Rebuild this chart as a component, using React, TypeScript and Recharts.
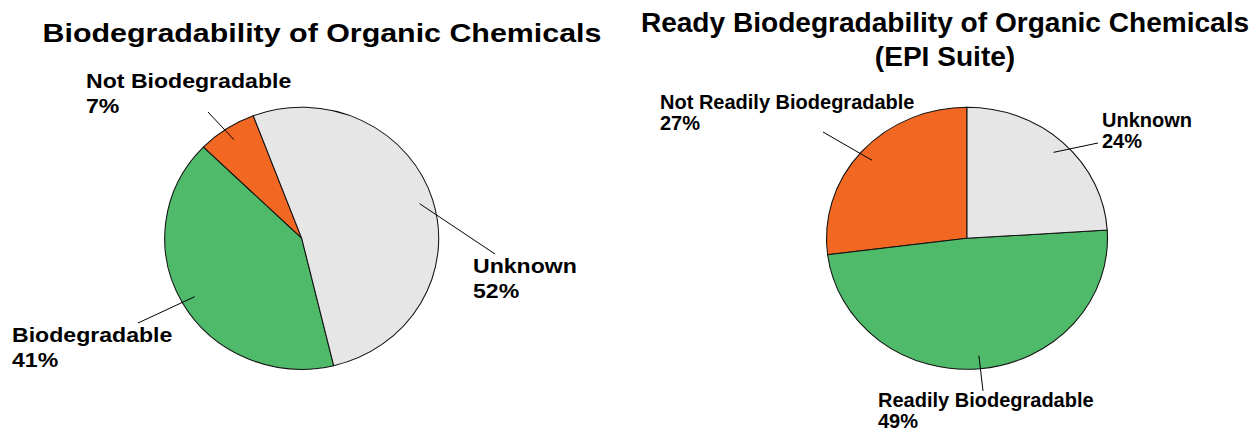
import React from 'react';
import { PieChart, Pie, Cell } from 'recharts';

// left chart
const leftTitle = 'Biodegradability of Organic Chemicals';
const leftNames = ['Not Biodegradable', 'Biodegradable', 'Unknown'];
const leftValues = [7, 41, 52];
const leftColors = ['#f26822', '#4fba69', '#e6e6e6'];

// right chart
const rightTitle = ['Ready Biodegradability of Organic Chemicals', '(EPI Suite)'];
const rightNames = ['Not Readily Biodegradable', 'Readily Biodegradable', 'Unknown'];
const rightValues = [27, 49, 24];
const rightColors = ['#f26822', '#4fba69', '#e6e6e6'];

const FONT = '"Liberation Sans", Arial, Helvetica, sans-serif';

// where each label's text sits and where its leader line ends (chart-local px)
const leftLabelLayout: { [k: string]: { tx: number; ty: number; ex: number; ey: number } } = {
  'Not Biodegradable': { tx: 86, ty: 88, ex: 208, ey: 112 },
  'Biodegradable': { tx: 12, ty: 342, ex: 138, ey: 323 },
  'Unknown': { tx: 473, ty: 273, ex: 495, ey: 254 },
};
const rightLabelLayout: { [k: string]: { tx: number; ty: number; ex: number; ey: number } } = {
  'Not Readily Biodegradable': { tx: 30, ty: 109, ex: 193, ey: 132 },
  'Readily Biodegradable': { tx: 248, ty: 407, ex: 353, ey: 391 },
  'Unknown': { tx: 472, ty: 127, ex: 468, ey: 143 },
};

interface PieSpec {
  cls: string;
  names: string[];
  values: number[];
  colors: string[];
  cx: number;
  cy: number;
  ry: number;
  sx: number; // horizontal stretch of the pie
  startAngle: number;
  layout: { [k: string]: { tx: number; ty: number; ex: number; ey: number } };
  fontSize: number;
  textScale: number;
  lineGap: number;
}

const RAD = Math.PI / 180;

function makeLabel(spec: PieSpec) {
  return (props: any) => {
    const { cx, cy, midAngle, outerRadius, index } = props;
    const name = spec.names[index];
    const pos = spec.layout[name];
    const r = outerRadius * 0.9;
    const x0 = cx + r * Math.cos(-midAngle * RAD) * spec.sx;
    const y0 = cy + r * Math.sin(-midAngle * RAD);
    return (
      <g key={`lbl-${index}`}>
        <line x1={x0} y1={y0} x2={pos.ex} y2={pos.ey} stroke="#000" strokeWidth={1} />
        <text
          transform={`translate(${pos.tx},${pos.ty}) scale(${spec.textScale},1)`}
          fontFamily={FONT}
          fontWeight="bold"
          fontSize={spec.fontSize}
          fill="#000"
        >
          <tspan x={0} y={0}>{name}</tspan>
          <tspan x={0} y={spec.lineGap}>{`${spec.values[index]}%`}</tspan>
        </text>
      </g>
    );
  };
}

function OnePie({ spec, left, width }: { spec: PieSpec; left: number; width: number }) {
  const data = spec.names.map((n, i) => ({ name: n, value: spec.values[i] }));
  return (
    <div className={spec.cls} style={{ position: 'absolute', left, top: 0 }}>
      <PieChart width={width} height={430} margin={{ top: 0, right: 0, bottom: 0, left: 0 }}>
        <Pie
          data={data}
          dataKey="value"
          nameKey="name"
          cx={spec.cx}
          cy={spec.cy}
          outerRadius={spec.ry}
          startAngle={spec.startAngle}
          endAngle={spec.startAngle + 360}
          stroke="#111"
          strokeWidth={1}
          label={makeLabel(spec)}
          labelLine={false}
          isAnimationActive={false}
        >
          {data.map((d, i) => (
            <Cell key={d.name} fill={spec.colors[i]} />
          ))}
        </Pie>
      </PieChart>
    </div>
  );
}

const leftSpec: PieSpec = {
  cls: 'pie-left',
  names: leftNames,
  values: leftValues,
  colors: leftColors,
  cx: 301.7,
  cy: 238.3,
  ry: 131,
  sx: 137 / 131,
  startAngle: 110.7,
  layout: leftLabelLayout,
  fontSize: 20,
  textScale: 1.155,
  lineGap: 24.6,
};

const rightSpec: PieSpec = {
  cls: 'pie-right',
  names: rightNames,
  values: rightValues,
  colors: rightColors,
  cx: 337,
  cy: 238.3,
  ry: 131,
  sx: 140.5 / 131,
  startAngle: 90,
  layout: rightLabelLayout,
  fontSize: 20,
  textScale: 1.0,
  lineGap: 20.5,
};

const css = `
.pie-left .recharts-sector { transform-origin: ${leftSpec.cx}px ${leftSpec.cy}px; transform: scaleX(${leftSpec.sx}); }
.pie-right .recharts-sector { transform-origin: ${rightSpec.cx}px ${rightSpec.cy}px; transform: scaleX(${rightSpec.sx}); }
.recharts-sector:focus, .recharts-pie-sector:focus { outline: none; }
`;

export default function App() {
  return (
    <div style={{ position: 'absolute', left: 0, top: 0, width: 1259, height: 430, background: '#fff', overflow: 'hidden' }}>
      <style>{css}</style>
      <OnePie spec={leftSpec} left={0} width={630} />
      <OnePie spec={rightSpec} left={630} width={629} />
      <svg width={1259} height={430} style={{ position: 'absolute', left: 0, top: 0, pointerEvents: 'none' }}>
        <text
          transform="translate(322,42) scale(1.147,1)"
          textAnchor="middle"
          fontFamily={FONT}
          fontWeight="bold"
          fontSize={26.5}
        >
          {leftTitle}
        </text>
        <text
          transform="translate(945,32) scale(1.04,1)"
          textAnchor="middle"
          fontFamily={FONT}
          fontWeight="bold"
          fontSize={27}
        >
          <tspan x={0} y={0}>{rightTitle[0]}</tspan>
          <tspan x={0} y={34}>{rightTitle[1]}</tspan>
        </text>
      </svg>
    </div>
  );
}
